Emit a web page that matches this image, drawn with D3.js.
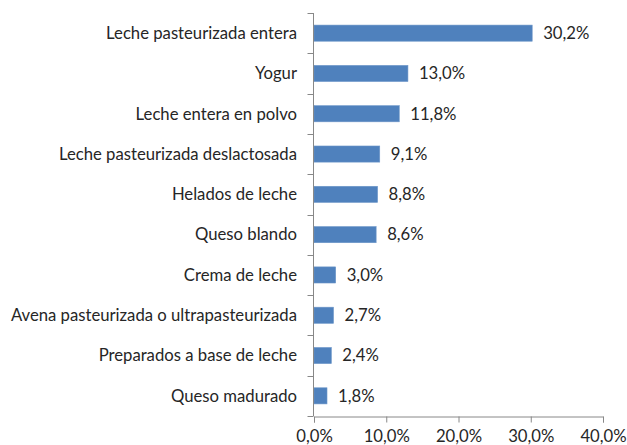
<!DOCTYPE html>
<html>
<head>
<meta charset="utf-8">
<script src="https://cdn.jsdelivr.net/npm/d3@7"></script>
<style>
  body { margin: 0; background: #fff; }
  text { font-family: Lato, "Open Sans", sans-serif; fill: #262626; }
</style>
</head>
<body>
<script>
const categories = [
    "Leche pasteurizada entera",
    "Yogur",
    "Leche entera en polvo",
    "Leche pasteurizada deslactosada",
    "Helados de leche",
    "Queso blando",
    "Crema de leche",
    "Avena pasteurizada o ultrapasteurizada",
    "Preparados a base de leche",
    "Queso madurado"
];
const values = [30.2, 13.0, 11.8, 9.1, 8.8, 8.6, 3.0, 2.7, 2.4, 1.8];
const xTicks = [0, 10, 20, 30, 40];

const width = 627, height = 445;
const margin = { top: 13, right: 24, bottom: 29, left: 314 };
const fontSize = "16.7px";

const svg = d3.select("body")
    .append("svg")
    .attr("width", width)
    .attr("height", height);

const x = d3.scaleLinear()
    .domain([0, 40])
    .range([margin.left, width - margin.right]);

const y = d3.scaleBand()
    .domain(categories)
    .range([margin.top, height - margin.bottom])
    .paddingInner(0.6)
    .paddingOuter(0.3);

const fmt = v => v.toFixed(1).replace(".", ",") + "%";

// bars
svg.selectAll("rect.bar")
    .data(values)
    .enter().append("rect")
    .attr("class", "bar")
    .attr("x", x(0))
    .attr("y", (d, i) => y(categories[i]))
    .attr("width", d => x(d) - x(0))
    .attr("height", y.bandwidth())
    .attr("fill", "#4f81bd")
    .attr("stroke", "#6d96c8")
    .attr("stroke-width", 0.6);

// value labels
svg.selectAll("text.val")
    .data(values)
    .enter().append("text")
    .attr("class", "val")
    .attr("x", d => x(d) + 11)
    .attr("y", (d, i) => y(categories[i]) + y.bandwidth() / 2)
    .attr("dy", "0.35em")
    .style("font-size", fontSize)
    .text(fmt);

// x axis
const xAxis = svg.append("g")
    .attr("transform", `translate(0,${height - margin.bottom + 0.5})`)
    .call(d3.axisBottom(x).tickValues(xTicks).tickSize(6).tickFormat(fmt));
xAxis.selectAll("line, path").attr("stroke", "#888");
xAxis.selectAll("text")
    .attr("dy", "1.0em")
    .style("font-size", fontSize)
    .style("font-family", "Lato, 'Open Sans', sans-serif")
    .attr("fill", "#262626");

// y axis: ticks at band boundaries
const yAxis = svg.append("g")
    .attr("transform", `translate(${margin.left - 0.5},0)`);
yAxis.append("line")
    .attr("y1", margin.top).attr("y2", height - margin.bottom)
    .attr("stroke", "#888");
const step = y.step();
const bounds = d3.range(categories.length + 1).map(i => margin.top + i * step);
yAxis.selectAll("line.tick")
    .data(bounds)
    .enter().append("line")
    .attr("class", "tick")
    .attr("x1", -6).attr("x2", 0)
    .attr("y1", d => Math.round(d) + 0.5).attr("y2", d => Math.round(d) + 0.5)
    .attr("stroke", "#888");

// category labels
svg.selectAll("text.cat")
    .data(categories)
    .enter().append("text")
    .attr("class", "cat")
    .attr("x", margin.left - 17)
    .attr("y", d => y(d) + y.bandwidth() / 2)
    .attr("dy", "0.35em")
    .attr("text-anchor", "end")
    .style("font-size", fontSize)
    .text(d => d);
</script>
</body>
</html>
